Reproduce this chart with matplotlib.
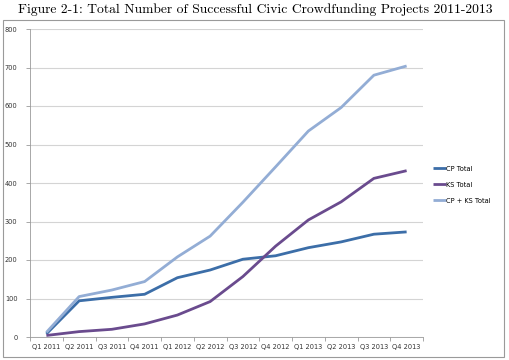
import matplotlib
matplotlib.use("Agg")
import matplotlib.pyplot as plt
from matplotlib.patches import Rectangle

quarters = ["Q1 2011", "Q2 2011", "Q3 2011", "Q4 2011", "Q1 2012", "Q2 2012",
            "Q3 2012", "Q4 2012", "Q1 2013", "Q2 2013", "Q3 2013", "Q4 2013"]
cp_total = [8, 94, 103, 111, 154, 174, 202, 211, 232, 247, 267, 273]
ks_total = [4, 14, 20, 34, 57, 92, 157, 236, 304, 351, 412, 432]
cp_ks_total = [12, 105, 122, 144, 208, 262, 350, 442, 535, 596, 680, 704]
yticks = [0, 100, 200, 300, 400, 500, 600, 700, 800]

W, H = 510, 360
fig = plt.figure(figsize=(W / 100, H / 100), dpi=100)
fig.patch.set_facecolor("white")

# outer frame
fig.patches.append(Rectangle((3 / W, 1 - 357 / H), 501 / W, 337 / H,
                             transform=fig.transFigure, fill=False,
                             edgecolor="#9a9a9a", linewidth=0.8))

fig.text(255 / W, 1 - 10 / H,
         "Figure 2-1: Total Number of Successful Civic Crowdfunding Projects 2011-2013",
         ha="center", va="center", fontsize=9.8, family=["cmr10", "DejaVu Serif"])

ax = fig.add_axes([30 / W, 1 - 337 / H, (423 - 30) / W, (337 - 29) / H])
x = list(range(len(quarters)))
ax.plot(x, cp_total, color="#3C6EA8", lw=2.0, label="CP Total", solid_capstyle="butt")
ax.plot(x, ks_total, color="#6A4B8E", lw=2.0, label="KS Total", solid_capstyle="butt")
ax.plot(x, cp_ks_total, color="#93ADD5", lw=2.0, label="CP + KS Total", solid_capstyle="butt")

ax.set_xlim(-0.5, len(quarters) - 0.5)
ax.set_ylim(0, 800)
ax.set_yticks(yticks)
ax.set_yticklabels([str(v) for v in yticks], fontsize=4.8, color="#333333")
ax.set_xticks(x)
ax.set_xticklabels(quarters, fontsize=4.8, color="#333333")
ax.tick_params(axis="x", length=0, pad=5)
ax.set_xticks([i + 0.5 for i in range(-1, len(quarters))], minor=True)
ax.tick_params(axis="x", which="minor", length=3, color="#9a9a9a", width=0.6)
ax.tick_params(axis="y", length=3, color="#9a9a9a", width=0.6, pad=6)
ax.grid(axis="y", color="#d4d4d4", lw=0.8)
ax.set_axisbelow(True)
for s in ["top", "right"]:
    ax.spines[s].set_visible(False)
ax.spines["left"].set_color("#9a9a9a")
ax.spines["bottom"].set_color("#9a9a9a")
ax.spines["left"].set_linewidth(0.6)
ax.spines["bottom"].set_linewidth(0.6)

leg = ax.legend(loc="upper left", bbox_to_anchor=(430 / W, 1 - 163 / H),
                bbox_transform=fig.transFigure, frameon=False, fontsize=4.8,
                handlelength=2.0, handletextpad=0.0, labelspacing=1.5,
                borderaxespad=0)

fig.savefig("out.png", dpi=100)
